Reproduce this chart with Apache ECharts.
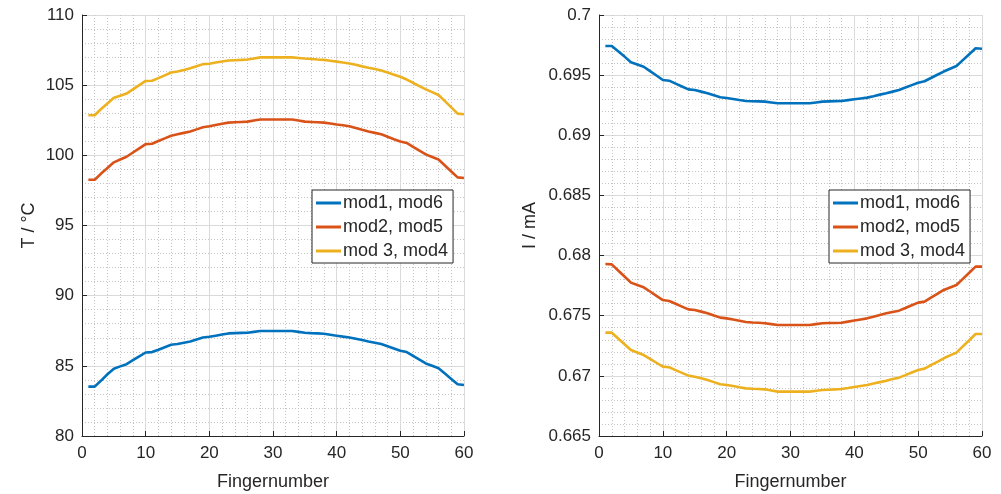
<!DOCTYPE html>
<html>
<head>
<meta charset="utf-8">
<script src="https://cdn.jsdelivr.net/npm/echarts@6/dist/echarts.min.js"></script>
<style>
  html, body { margin: 0; padding: 0; background: #fff; }
  #main { width: 1001px; height: 494px; }
</style>
</head>
<body>
<div id="main"></div>
<script>
// finger index 1..60
var fingers = [];
for (var i = 1; i <= 60; i++) fingers.push(i);

var seriesNames = ['mod1, mod6', 'mod2, mod5', 'mod 3, mod4'];

// temperature, °C
var tMod16 = [83.52, 83.52, 83.95, 84.4, 84.79, 84.96, 85.12, 85.4, 85.68, 85.95,
  85.98, 86.15, 86.33, 86.5, 86.55, 86.65, 86.74, 86.88, 87.02, 87.07,
  87.15, 87.23, 87.31, 87.33, 87.35, 87.36, 87.42, 87.48, 87.48, 87.48,
  87.48, 87.48, 87.48, 87.42, 87.36, 87.33, 87.31, 87.29, 87.22, 87.15,
  87.08, 87.02, 86.93, 86.84, 86.74, 86.65, 86.55, 86.39, 86.23, 86.07,
  85.98, 85.71, 85.44, 85.17, 85.0, 84.83, 84.45, 84.07, 83.69, 83.64];
var tMod25 = [98.26, 98.26, 98.7, 99.1, 99.5, 99.7, 99.9, 100.2, 100.5, 100.8,
  100.83, 101.02, 101.21, 101.4, 101.5, 101.6, 101.7, 101.85, 102.0, 102.07,
  102.16, 102.25, 102.33, 102.36, 102.38, 102.4, 102.48, 102.55, 102.55, 102.55,
  102.55, 102.55, 102.55, 102.48, 102.4, 102.38, 102.36, 102.33, 102.27, 102.2,
  102.14, 102.07, 101.95, 101.82, 101.7, 101.6, 101.5, 101.33, 101.15, 100.98,
  100.88, 100.61, 100.34, 100.07, 99.88, 99.7, 99.28, 98.85, 98.43, 98.38];
var tMod34 = [102.86, 102.86, 103.3, 103.7, 104.1, 104.25, 104.4, 104.7, 105.0, 105.3,
  105.32, 105.5, 105.7, 105.9, 105.97, 106.08, 106.2, 106.35, 106.5, 106.53,
  106.61, 106.69, 106.76, 106.78, 106.8, 106.83, 106.9, 106.98, 106.98, 106.98,
  106.98, 106.98, 106.98, 106.94, 106.9, 106.87, 106.83, 106.8, 106.74, 106.68,
  106.61, 106.55, 106.45, 106.34, 106.24, 106.15, 106.05, 105.9, 105.75, 105.6,
  105.4, 105.17, 104.93, 104.7, 104.5, 104.3, 103.86, 103.42, 102.97, 102.93];

// current, mA
var iMod16 = [0.69742, 0.69742, 0.69698, 0.69654, 0.69607, 0.69588, 0.6957, 0.69533, 0.69497, 0.6946,
  0.69454, 0.6943, 0.69406, 0.69382, 0.69377, 0.69363, 0.6935, 0.69333, 0.69316, 0.6931,
  0.69302, 0.69293, 0.69285, 0.69283, 0.69282, 0.6928, 0.69273, 0.69266, 0.69266, 0.69266,
  0.69266, 0.69266, 0.69266, 0.69273, 0.6928, 0.69282, 0.69284, 0.69285, 0.69292, 0.69299,
  0.69306, 0.69313, 0.69325, 0.69338, 0.6935, 0.69363, 0.69377, 0.69397, 0.69417, 0.69437,
  0.69449, 0.69476, 0.69503, 0.6953, 0.69553, 0.69576, 0.69625, 0.69674, 0.69723, 0.6972];
var iMod25 = [0.6793, 0.67927, 0.67876, 0.67826, 0.67775, 0.67755, 0.67736, 0.67701, 0.67665, 0.6763,
  0.67622, 0.67599, 0.67576, 0.67553, 0.67548, 0.67534, 0.6752, 0.67502, 0.67484, 0.67478,
  0.67468, 0.67458, 0.67448, 0.67444, 0.67441, 0.67437, 0.6743, 0.67423, 0.67423, 0.67423,
  0.67423, 0.67423, 0.67423, 0.6743, 0.67437, 0.67439, 0.6744, 0.67442, 0.67451, 0.6746,
  0.67469, 0.67478, 0.67492, 0.67506, 0.6752, 0.67531, 0.67542, 0.67564, 0.67587, 0.67609,
  0.67617, 0.6765, 0.67682, 0.67714, 0.67735, 0.67755, 0.67806, 0.67857, 0.67908, 0.67908];
var iMod34 = [0.67359, 0.67359, 0.67311, 0.67263, 0.67215, 0.67194, 0.67173, 0.67141, 0.67109, 0.67077,
  0.67071, 0.67048, 0.67025, 0.67002, 0.66993, 0.6698, 0.66966, 0.66948, 0.6693, 0.66924,
  0.66915, 0.66905, 0.66896, 0.66893, 0.66891, 0.66888, 0.66879, 0.66869, 0.66869, 0.66869,
  0.66869, 0.66869, 0.66869, 0.66876, 0.66882, 0.66885, 0.66888, 0.66891, 0.66899, 0.66908,
  0.66916, 0.66924, 0.66936, 0.66948, 0.6696, 0.66973, 0.66985, 0.67006, 0.67028, 0.67049,
  0.6706, 0.67089, 0.67117, 0.67146, 0.6717, 0.67193, 0.67245, 0.67296, 0.67348, 0.67348];

var color = ['#0072BD', '#D95319', '#EDB120'];
var font = 'Liberation Sans, Arial, sans-serif';
var txt = '#262626';

var myChart = echarts.init(document.getElementById('main'));

function pairs(ys) {
  return fingers.map(function (f, k) { return [f, ys[k]]; });
}

function xAxis(gi) {
  return {
    type: 'value', gridIndex: gi, min: 0, max: 60, interval: 10,
    name: 'Fingernumber', nameLocation: 'middle', nameGap: 37,
    nameTextStyle: { color: txt, fontSize: 18, fontFamily: font },
    axisLine: { lineStyle: { color: txt, width: 1 } },
    axisTick: { inside: true, length: 5, lineStyle: { color: txt } },
    minorTick: { show: true, splitNumber: 5, length: 0 },
    axisLabel: { color: txt, fontSize: 17, fontFamily: font, margin: 9 },
    splitLine: { lineStyle: { color: '#dadada' } },
    minorSplitLine: { show: true, lineStyle: { color: '#c4c4c4', type: [1, 2] } }
  };
}

function yAxis(gi, o) {
  return {
    type: 'value', gridIndex: gi, min: o.min, max: o.max, interval: o.interval,
    name: o.name, nameLocation: 'middle', nameGap: o.gap,
    nameTextStyle: { color: txt, fontSize: 18, fontFamily: font },
    axisLine: { show: true, lineStyle: { color: txt, width: 1 } },
    axisTick: { show: true, inside: true, length: 5, lineStyle: { color: txt } },
    minorTick: { show: true, splitNumber: 5, length: 0 },
    axisLabel: { color: txt, fontSize: 17, fontFamily: font, margin: 8, formatter: o.fmt },
    splitLine: { lineStyle: { color: '#dadada' } },
    minorSplitLine: { show: true, lineStyle: { color: '#c4c4c4', type: [1, 2] } }
  };
}

function line(name, k, gi, ys) {
  return {
    name: name, type: 'line', xAxisIndex: gi, yAxisIndex: gi,
    data: pairs(ys), showSymbol: false, symbol: 'none',
    lineStyle: { color: color[k], width: 2.6 }, itemStyle: { color: color[k] },
    animation: false
  };
}

function legend(left) {
  return {
    orient: 'vertical', left: left, top: 190,
    data: seriesNames, icon: 'rect', itemWidth: 25, itemHeight: 3, itemGap: 6,
    padding: [4, 5, 3, 4],
    borderColor: txt, borderWidth: 1, backgroundColor: '#fff',
    textStyle: { color: txt, fontSize: 18, fontFamily: font, padding: [0, 0, 0, -3] }
  };
}

var option = {
  backgroundColor: '#fff',
  color: color,
  animation: false,
  legend: [legend(312), legend(829)],
  grid: [
    { left: 82, right: 537, top: 15, bottom: 58, outerBoundsMode: 'none' },
    { left: 599, right: 19, top: 15, bottom: 58, outerBoundsMode: 'none' }
  ],
  xAxis: [xAxis(0), xAxis(1)],
  yAxis: [
    yAxis(0, { min: 80, max: 110, interval: 5, name: 'T / °C', gap: 44 }),
    yAxis(1, { min: 0.665, max: 0.7, interval: 0.005, name: 'I / mA', gap: 60,
      fmt: function (v) { return String(+v.toFixed(3)); } })
  ],
  series: [
    line(seriesNames[0], 0, 0, tMod16),
    line(seriesNames[1], 1, 0, tMod25),
    line(seriesNames[2], 2, 0, tMod34),
    line(seriesNames[0], 0, 1, iMod16),
    line(seriesNames[1], 1, 1, iMod25),
    line(seriesNames[2], 2, 1, iMod34)
  ]
};
myChart.setOption(option);
</script>
</body>
</html>
